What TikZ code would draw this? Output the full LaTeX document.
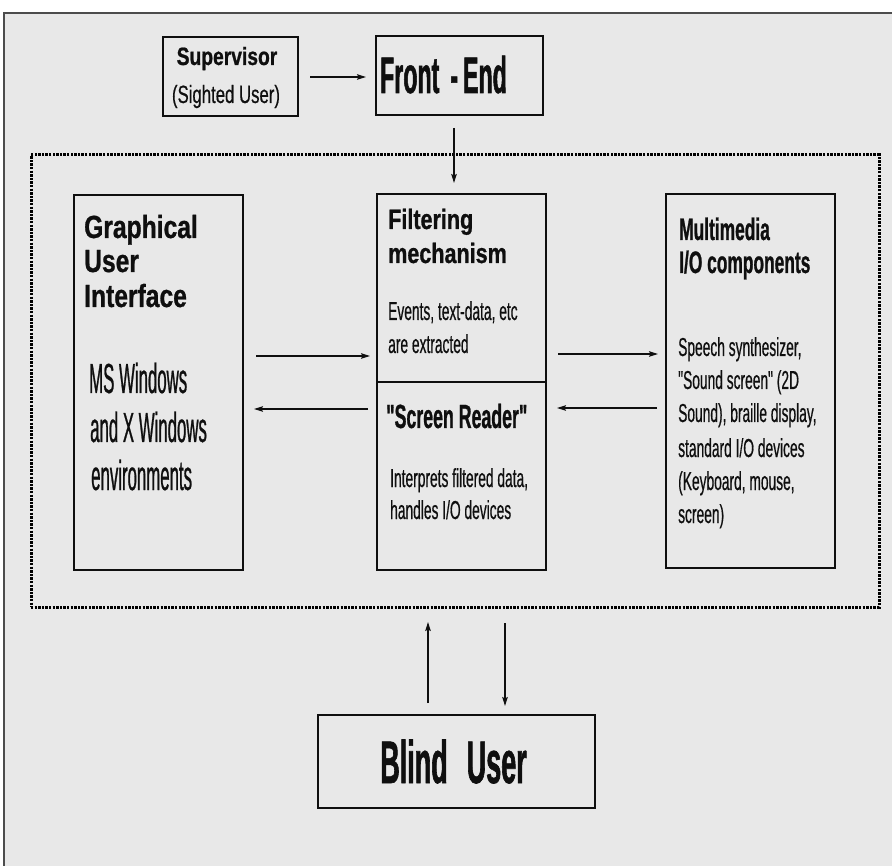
\documentclass[tikz,border=0pt]{standalone}
\usepackage{fontspec}
\usetikzlibrary{arrows.meta}

\setmainfont{Liberation Sans}
% condensed cuts of one sans family, for the various label widths
\newfontfamily\headfont[FakeStretch=0.77,UprightFeatures={FakeBold=0.5},BoldFeatures={FakeBold=0.8}]{Liberation Sans}
\newfontfamily\sightfont[FakeStretch=0.67,UprightFeatures={FakeBold=0.5},BoldFeatures={FakeBold=0.8}]{Liberation Sans}
\newfontfamily\titlefont[FakeStretch=0.45,UprightFeatures={FakeBold=0.5},BoldFeatures={FakeBold=1}]{Liberation Sans}
\newfontfamily\multifont[FakeStretch=0.56,UprightFeatures={FakeBold=0.5},BoldFeatures={FakeBold=0.8}]{Liberation Sans}
\newfontfamily\condfont[FakeStretch=0.53,UprightFeatures={FakeBold=0.5},BoldFeatures={FakeBold=0.8}]{Liberation Sans}
\newfontfamily\guifont[FakeStretch=0.40,UprightFeatures={FakeBold=0.6},BoldFeatures={FakeBold=0.8}]{Liberation Sans}
\newcommand\fsz[1]{\fontsize{#1}{#1}\selectfont}

\definecolor{paper}{gray}{0.91}
\definecolor{ink}{gray}{0.06}

\tikzset{
  box/.style={draw=ink, line width=1.6pt, rectangle, inner sep=0pt, outer sep=0pt, anchor=north west},
  group/.style={draw=black, line width=3pt, dash pattern=on 2.4pt off 1.2pt, rectangle, inner sep=0pt, outer sep=0pt, anchor=north west},
  txt/.style={anchor=base west, inner sep=0pt, text=ink},
  ctxt/.style={anchor=base, inner sep=0pt, text=ink},
  arr/.style={draw=ink, line width=1.3pt, -{Stealth[length=9pt,width=5.5pt,inset=1.5pt]}},
  frame/.style={draw=black!70, line width=2pt},
}

\begin{document}
\begin{tikzpicture}[x=1pt,y=-1pt]
  \useasboundingbox (0,0) rectangle (892,866);
  \fill[white] (0,0) rectangle (892,866);
  \fill[paper] (4,13) rectangle (892,866);
  \draw[frame] (4,866) -- (4,13) -- (892,13);

  % supervisor and front-end
  \node[box, minimum width=135pt, minimum height=79pt] (sup) at (163,37) {};
  \node[ctxt, font=\headfont\bfseries\fsz{25}] (supA) at (227,65) {Supervisor};
  \node[ctxt, font=\sightfont\fsz{25}] (supB) at (226,103) {(Sighted User)};

  \node[box, minimum width=167pt, minimum height=79pt] (fe) at (376,36) {};
  \node[ctxt, font=\titlefont\bfseries\fsz{51.5}] (feT) at (443.5,93) {Front\hspace{11pt}-\hspace{5pt}End};

  % dotted system boundary
  \node[group, minimum width=848pt, minimum height=452pt] (sys) at (31,155) {};

  % graphical user interface
  \node[box, minimum width=169pt, minimum height=375pt] (gui) at (74,195) {};
  \node[txt, font=\headfont\bfseries\fsz{32}] (guiA) at (84,238) {Graphical};
  \node[txt, font=\headfont\bfseries\fsz{32}] (guiB) at (84,272) {User};
  \node[txt, font=\headfont\bfseries\fsz{32}] (guiC) at (84,307) {Interface};
  \node[txt, font=\guifont\fsz{42}] (guiD) at (89,393) {MS Windows};
  \node[txt, font=\guifont\fsz{42}] (guiE) at (90,442) {and X Windows};
  \node[txt, font=\guifont\fsz{42}] (guiF) at (91,490) {environments};

  % filtering mechanism / screen reader
  \node[box, minimum width=169pt, minimum height=376pt] (filt) at (377,194) {};
  \coordinate (divL) at (377,382);
  \draw[draw=ink, line width=1.6pt] (divL) -- (divL -| filt.east);
  \node[txt, font=\headfont\bfseries\fsz{28}] (filtA) at (388,229) {Filtering};
  \node[txt, font=\headfont\bfseries\fsz{28}] (filtB) at (388,263) {mechanism};
  \node[txt, font=\condfont\fsz{26}] (filtC) at (388,320) {Events, text-data, etc};
  \node[txt, font=\condfont\fsz{26}] (filtD) at (388,353) {are extracted};
  \node[txt, font=\condfont\bfseries\fsz{33.5}] (scrA) at (386,428) {"Screen Reader"};
  \node[txt, font=\condfont\fsz{26}] (scrB) at (390,487) {Interprets filtered data,};
  \node[txt, font=\condfont\fsz{26}] (scrC) at (390,519) {handles I/O devices};

  % multimedia components
  \node[box, minimum width=169pt, minimum height=374pt] (multi) at (666,194) {};
  \node[txt, font=\multifont\bfseries\fsz{31}] (mulA) at (679,240) {Multimedia};
  \node[txt, font=\multifont\bfseries\fsz{31}] (mulB) at (679,273) {I/O components};
  \node[txt, font=\condfont\fsz{26}] (mulC) at (678,356) {Speech synthesizer,};
  \node[txt, font=\condfont\fsz{26}] (mulD) at (678,389) {"Sound screen" (2D};
  \node[txt, font=\condfont\fsz{26}] (mulE) at (678,422) {Sound), braille display,};
  \node[txt, font=\condfont\fsz{26}] (mulF) at (678,457) {standard I/O devices};
  \node[txt, font=\condfont\fsz{26}] (mulG) at (678,490) {(Keyboard, mouse,};
  \node[txt, font=\condfont\fsz{26}] (mulH) at (678,523) {screen)};

  % blind user
  \node[box, minimum width=277pt, minimum height=93pt] (blind) at (318,715) {};
  \node[ctxt, font=\titlefont\bfseries\fsz{60}] (blindT) at (453.5,783) {Blind\hspace{19pt}User};

  % connectors
  \draw[arr, shorten <=12pt, shorten >=10pt] (sup.east |- 0,77) -- (fe.west |- 0,77);
  \draw[arr, shorten <=13pt, shorten >=11pt] (fe.south -| 454,0) -- (filt.north -| 454,0);
  \draw[arr, shorten <=13pt, shorten >=7pt] (gui.east |- 0,356) -- (filt.west |- 0,356);
  \draw[arr, shorten <=9pt, shorten >=11pt] (filt.west |- 0,409) -- (gui.east |- 0,409);
  \draw[arr, shorten <=12pt, shorten >=8pt] (filt.east |- 0,354) -- (multi.west |- 0,354);
  \draw[arr, shorten <=9pt, shorten >=11pt] (multi.west |- 0,408) -- (filt.east |- 0,408);
  \draw[arr, shorten <=12pt, shorten >=15pt] (blind.north -| 428,0) -- (sys.south -| 428,0);
  \draw[arr, shorten <=16pt, shorten >=9pt] (sys.south -| 505,0) -- (blind.north -| 505,0);
\end{tikzpicture}
\end{document}
